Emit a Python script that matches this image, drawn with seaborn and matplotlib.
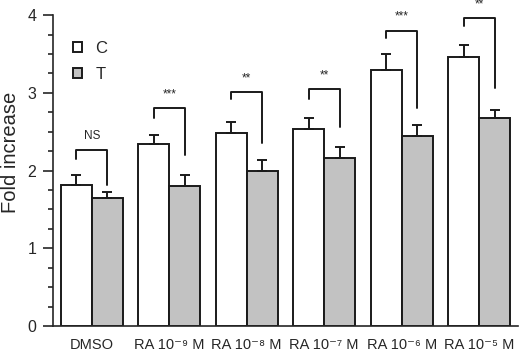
import numpy as np
import pandas as pd
import matplotlib
matplotlib.use("Agg")
import matplotlib.pyplot as plt
from matplotlib.ticker import MultipleLocator
import seaborn as sns

# data
groups = ["DMSO", "RA 10⁻⁹ M", "RA 10⁻⁸ M", "RA 10⁻⁷ M",
          "RA 10⁻⁶ M", "RA 10⁻⁵ M"]
c_mean = [1.82, 2.34, 2.48, 2.54, 3.30, 3.46]
c_err = [0.12, 0.12, 0.14, 0.14, 0.20, 0.16]
t_mean = [1.65, 1.80, 2.00, 2.16, 2.44, 2.68]
t_err = [0.07, 0.14, 0.14, 0.14, 0.14, 0.10]

# significance brackets: top, left leg end, right leg end, label
bracket_top = [2.27, 2.80, 3.01, 3.05, 3.80, 3.96]
bracket_left = [2.15, 2.67, 2.92, 2.92, 3.70, 3.86]
bracket_right = [1.82, 2.20, 2.35, 2.56, 2.81, 3.06]
signif = ["NS", "***", "**", "**", "***", "**"]

df = pd.DataFrame({
    "group": groups * 2,
    "cond": ["C"] * 6 + ["T"] * 6,
    "value": c_mean + t_mean,
})

sns.set_style("ticks")
plt.rcParams["font.family"] = ["Liberation Sans", "DejaVu Sans"]

fig, ax = plt.subplots(figsize=(5.2, 3.52), dpi=100)
fig.subplots_adjust(left=0.102, right=0.996, bottom=0.074, top=0.957)

sns.barplot(data=df, x="group", y="value", hue="cond",
            palette={"C": "white", "T": "#c2c2c2"}, errorbar=None,
            width=0.8, edgecolor="#1a1a1a", linewidth=1.4, ax=ax)

# bar centers from the patches seaborn drew
bars = [p for p in ax.patches if p.get_height() > 0][:12]
c_x = [b.get_x() + b.get_width() / 2 for b in bars[:6]]
t_x = [b.get_x() + b.get_width() / 2 for b in bars[6:12]]

for xs, m, e in [(c_x, c_mean, c_err), (t_x, t_mean, t_err)]:
    ax.errorbar(xs, m, yerr=[np.zeros(len(e)), e], fmt="none",
                ecolor="#1a1a1a", elinewidth=1.4, capsize=3.5,
                capthick=1.4, zorder=3)

for i in range(len(groups)):
    ax.plot([c_x[i], c_x[i], t_x[i], t_x[i]],
            [bracket_left[i], bracket_top[i], bracket_top[i], bracket_right[i]],
            color="#1a1a1a", lw=1.4, clip_on=False)
    ax.text((c_x[i] + t_x[i]) / 2, bracket_top[i] + 0.1, signif[i],
            ha="center", va="bottom", fontsize=8.5, clip_on=False)

ax.set_ylim(0, 4)
ax.set_xlim(-0.5, 5.5)
ax.yaxis.set_major_locator(MultipleLocator(1))
ax.yaxis.set_minor_locator(MultipleLocator(0.25))
ax.tick_params(axis="y", which="major", length=7, width=1.2, labelsize=11.5, pad=5)
ax.tick_params(axis="y", which="minor", length=3.5, width=1.2)
ax.tick_params(axis="x", length=0, labelsize=10.5, pad=8.5)
ax.set_xlabel("")
ax.set_ylabel("Fold increase", fontsize=14.5)
ax.yaxis.set_label_coords(-0.07, 0.56)
for s in ["left", "bottom"]:
    ax.spines[s].set_linewidth(1.2)
sns.despine(ax=ax)

leg = ax.legend(frameon=False, loc="upper left", bbox_to_anchor=(0.01, 0.965),
                handlelength=0.55, handleheight=0.55, handletextpad=0.8,
                labelspacing=0.65, fontsize=12)

fig.savefig("out.png", dpi=100)
